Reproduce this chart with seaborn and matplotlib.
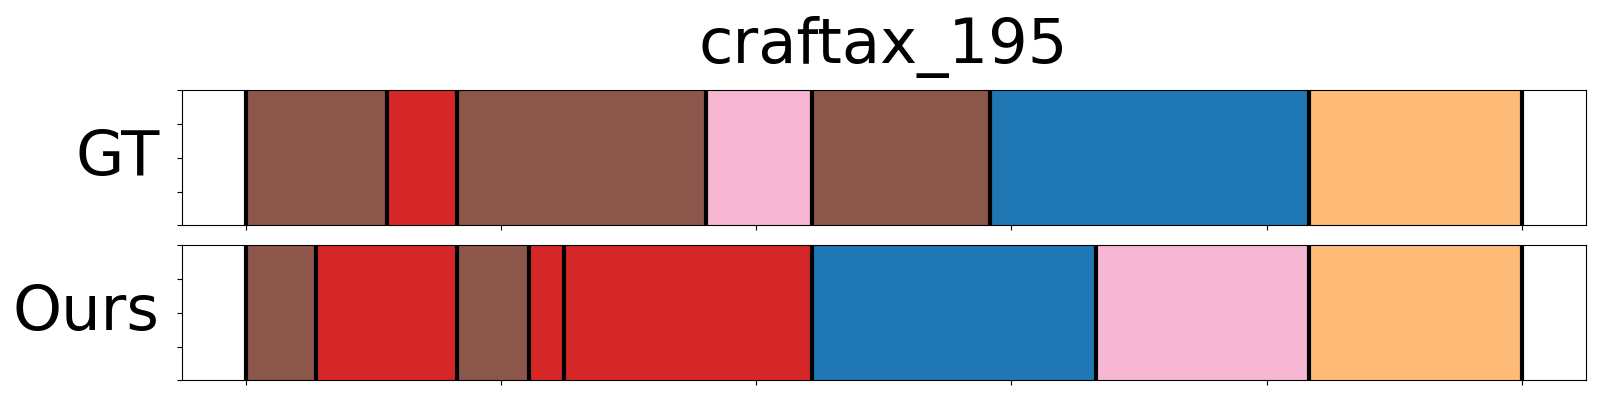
import matplotlib
matplotlib.use("Agg")
import matplotlib.pyplot as plt
import seaborn as sns

title = "craftax_195"
row_names = ["GT", "Ours"]

# segment boundaries (frame index) and class id per segment
gt_bounds = [0, 27.7, 41.5, 90.2, 110.9, 145.8, 208.3, 250]
gt_classes = [10, 6, 10, 13, 10, 0, 3]
ours_bounds = [0, 13.7, 41.5, 55.5, 62.3, 110.9, 166.5, 208.3, 250]
ours_classes = [10, 6, 10, 6, 6, 0, 13, 3]

x_ticks = [0, 50, 100, 150, 200, 250]
y_ticks = [0, 0.25, 0.5, 0.75, 1.0]

palette = sns.color_palette("tab20", 20)


def draw_segments(ax, bounds, classes, name):
    starts = bounds[:-1]
    widths = [b - a for a, b in zip(bounds[:-1], bounds[1:])]
    colors = [palette[c] for c in classes]
    ax.barh(0, widths, left=starts, height=1, align="edge", color=colors, edgecolor="none")
    for b in bounds:
        ax.axvline(b, color="black", linewidth=3)
    ax.set_xlim(-12.5, 262.5)
    ax.set_ylim(0, 1)
    ax.set_xticks(x_ticks)
    ax.set_xticklabels([])
    ax.set_yticks(y_ticks)
    ax.set_yticklabels([])
    ax.set_ylabel(name, fontsize=45, rotation=0, ha="right", va="center", labelpad=9)


fig, axes = plt.subplots(2, 1, figsize=(16, 4), dpi=100)
plt.subplots_adjust(left=0.1136, right=0.991, top=0.774, bottom=0.049, hspace=0.148)

draw_segments(axes[0], gt_bounds, gt_classes, row_names[0])
draw_segments(axes[1], ours_bounds, ours_classes, row_names[1])
axes[0].set_title(title, fontsize=45, pad=20)

plt.savefig("out.png")
